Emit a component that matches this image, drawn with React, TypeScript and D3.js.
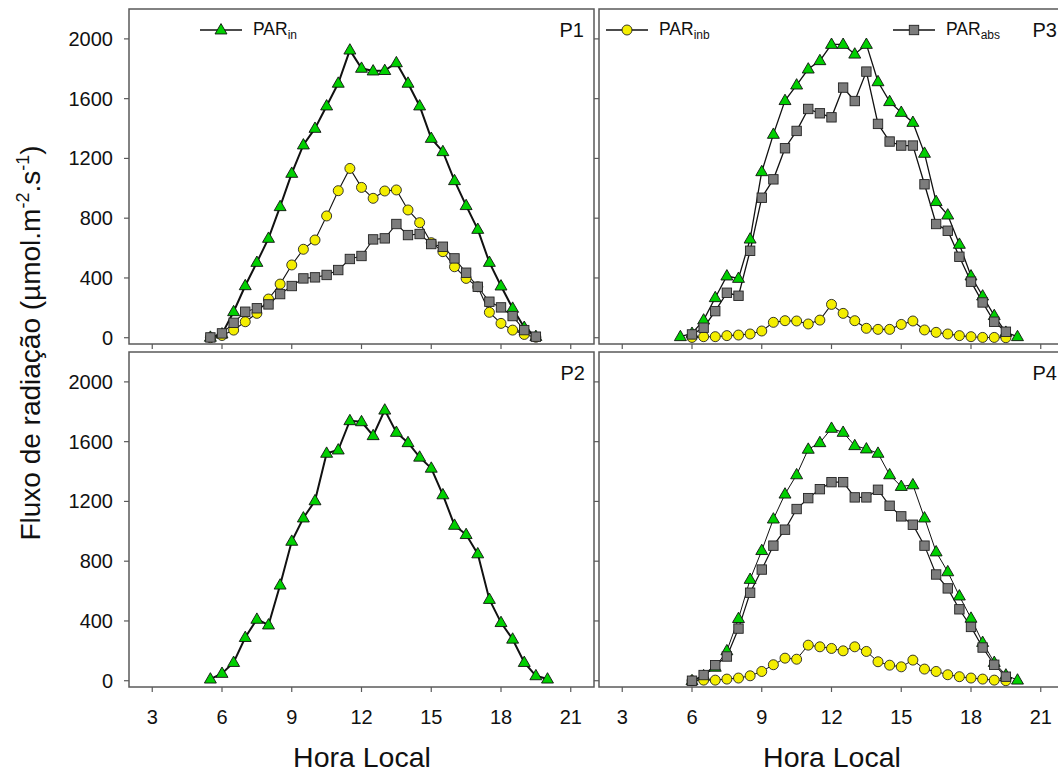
import React from "react";
import * as d3 from "d3";

// ---------- data ----------
const hP1 = [5.5,6,6.5,7,7.5,8,8.5,9,9.5,10,10.5,11,11.5,12,12.5,13,13.5,14,14.5,15,15.5,16,16.5,17,17.5,18,18.5,19,19.5];
const p1In = [3,25,174,348,504,665,877,1100,1290,1401,1551,1703,1925,1803,1785,1788,1840,1703,1551,1334,1245,1051,884,725,504,346,197,69,8];
const p1Inb = [0,15,51,107,163,259,359,487,592,654,815,984,1133,1006,933,982,989,855,770,636,576,475,397,341,170,96,51,22,3];
const p1Abs = [2,29,100,174,197,223,292,346,397,404,420,453,527,547,658,665,761,687,694,627,609,531,435,341,241,203,145,51,7];

const hP2 = [5.5,6,6.5,7,7.5,8,8.5,9,9.5,10,10.5,11,11.5,12,12.5,13,13.5,14,14.5,15,15.5,16,16.5,17,17.5,18,18.5,19,19.5,20];
const p2In = [11,49,122,289,411,373,640,933,1089,1204,1522,1544,1740,1733,1640,1811,1662,1593,1496,1422,1244,1040,978,849,544,389,278,122,33,11];

const hP3In = [5.5,6,6.5,7,7.5,8,8.5,9,9.5,10,10.5,11,11.5,12,12.5,13,13.5,14,14.5,15,15.5,16,16.5,17,17.5,18,18.5,19,19.5,20];
const p3In = [7,29,118,268,413,397,660,1111,1361,1587,1691,1798,1854,1963,1963,1898,1963,1713,1580,1508,1441,1234,911,821,625,413,279,148,36,7];
const hP3 = [6,6.5,7,7.5,8,8.5,9,9.5,10,10.5,11,11.5,12,12.5,13,13.5,14,14.5,15,15.5,16,16.5,17,17.5,18,18.5,19,19.5];
const p3Abs = [22,67,178,301,281,582,937,1060,1268,1384,1531,1502,1475,1674,1584,1781,1431,1313,1286,1286,1027,761,716,542,375,236,107,40];
const p3Inb = [2,7,7,14,18,25,45,103,114,112,92,118,223,163,114,63,56,56,89,112,52,36,25,14,7,2,2,0];

const hP4In = [6,6.5,7,7.5,8,8.5,9,9.5,10,10.5,11,11.5,12,12.5,13,13.5,14,14.5,15,15.5,16,16.5,17,17.5,18,18.5,19,19.5,20];
const p4In = [0,33,90,200,416,678,871,1082,1249,1378,1549,1593,1689,1662,1573,1551,1522,1378,1300,1311,1089,862,729,567,418,256,122,38,4];
const hP4 = [6,6.5,7,7.5,8,8.5,9,9.5,10,10.5,11,11.5,12,12.5,13,13.5,14,14.5,15,15.5,16,16.5,17,17.5,18,18.5,19,19.5];
const p4Abs = [0,38,104,162,349,589,744,904,1011,1149,1222,1282,1329,1329,1227,1227,1278,1171,1100,1044,904,711,618,478,360,222,107,27];
const p4Inb = [0,4,4,11,18,33,62,107,151,144,238,227,216,200,227,196,127,104,93,138,78,62,40,27,18,11,4,0];

const xTicks = [3, 6, 9, 12, 15, 18, 21];
const yTicks = [0, 400, 800, 1200, 1600, 2000];
const xDomain = [2, 22];
const yDomain = [-42, 2200];

const FONT = "'Liberation Sans', Arial, Helvetica, sans-serif";
const GREEN = "#00d000";
const YELLOW = "#f4ee00";
const GRAY = "#7c7c7c";
const FRAME = "#5a5a5a";

type Series = { h: number[]; v: number[]; kind: "tri" | "circ" | "sq"; lw: number };

type PanelProps = {
  x0: number; y0: number; w: number; h: number;
  label: string; labelX: number; series: Series[];
  showY: boolean; showX: boolean;
};

const triPath = d3.symbol().type(d3.symbolTriangle).size(62)() as string;
const linePath = (hs: number[], vs: number[], xs: d3.ScaleLinear<number, number>, ys: d3.ScaleLinear<number, number>) =>
  d3.line<number>().x((_, i) => xs(hs[i])).y((d) => ys(d))(vs) as string;

function Marker({ kind, cx, cy }: { kind: string; cx: number; cy: number }) {
  if (kind === "tri")
    return <path d={triPath} transform={`translate(${cx},${cy + 0.5})`} fill={GREEN} stroke="#111" strokeWidth={0.9} />;
  if (kind === "circ")
    return <circle cx={cx} cy={cy} r={5} fill={YELLOW} stroke="#222" strokeWidth={0.9} />;
  return <rect x={cx - 4.7} y={cy - 4.7} width={9.4} height={9.4} fill={GRAY} stroke="#222" strokeWidth={0.9} />;
}

function Panel({ x0, y0, w, h, label, labelX, series, showY, showX }: PanelProps) {
  const xs = d3.scaleLinear().domain(xDomain).range([x0, x0 + w]);
  const ys = d3.scaleLinear().domain(yDomain).range([y0 + h, y0]);
  const order = ["tri", "circ", "sq"];
  const sorted = [...series].sort((a, b) => order.indexOf(a.kind) - order.indexOf(b.kind));
  return (
    <g>
      {yTicks.map((t) => (
        <g key={"y" + t}>
          <line x1={x0 - 5} x2={x0} y1={ys(t)} y2={ys(t)} stroke={FRAME} strokeWidth={1.2} />
          {showY && (
            <text x={x0 - 16} y={ys(t)} dy="0.35em" textAnchor="end" fontSize={20} fontFamily={FONT} fill="#111">
              {t}
            </text>
          )}
        </g>
      ))}
      {xTicks.map((t) => (
        <g key={"x" + t}>
          <line x1={xs(t)} x2={xs(t)} y1={y0 + h} y2={y0 + h + 5} stroke={FRAME} strokeWidth={1.2} />
          {showX && (
            <text x={xs(t)} y={y0 + h + 37} textAnchor="middle" fontSize={20} fontFamily={FONT} fill="#111">
              {t}
            </text>
          )}
        </g>
      ))}
      {sorted.map((s, k) => (
        <path key={"l" + k} d={linePath(s.h, s.v, xs, ys)} fill="none" stroke="#111" strokeWidth={s.lw} />
      ))}
      {sorted.map((s, k) => (
        <g key={"m" + k}>
          {s.v.map((v, i) => (
            <Marker key={i} kind={s.kind} cx={xs(s.h[i])} cy={ys(v)} />
          ))}
        </g>
      ))}
      <rect x={x0} y={y0} width={w} height={h} fill="none" stroke={FRAME} strokeWidth={1.5} />
      <text x={labelX} y={y0 + 28} textAnchor="end" fontSize={20} fontFamily={FONT} fill="#111">
        {label}
      </text>
    </g>
  );
}

function LegendItem({ x, y, kind, main, sub }: { x: number; y: number; kind: string; main: string; sub: string }) {
  return (
    <g>
      <line x1={x} x2={x + 42} y1={y} y2={y} stroke="#111" strokeWidth={1.5} />
      <Marker kind={kind} cx={x + 21} cy={y} />
      <text x={x + 53} y={y + 4.5} fontSize={17.5} fontFamily={FONT} fill="#111">
        {main}
        <tspan fontSize={12} dy={4}>{sub}</tspan>
      </text>
    </g>
  );
}

export default function App() {
  const W = 1058, H = 775;
  const pw = 465, ph = 335;
  const L = 129, R = 599, T = 9, B = 352;
  return (
    <svg width={W} height={H} style={{ position: "absolute", left: 0, top: 0, background: "#fff" }}>
      <rect x={0} y={0} width={W} height={H} fill="#fff" />
      <Panel x0={L} y0={T} w={pw} h={ph} label="P1" labelX={584} showY showX={false}
        series={[
          { h: hP1, v: p1In, kind: "tri", lw: 2 },
          { h: hP1, v: p1Inb, kind: "circ", lw: 1.1 },
          { h: hP1, v: p1Abs, kind: "sq", lw: 1.1 },
        ]} />
      <Panel x0={R} y0={T} w={pw} h={ph} label="P3" labelX={1057} showY={false} showX={false}
        series={[
          { h: hP3In, v: p3In, kind: "tri", lw: 1.3 },
          { h: hP3, v: p3Inb, kind: "circ", lw: 1.1 },
          { h: hP3, v: p3Abs, kind: "sq", lw: 1.3 },
        ]} />
      <Panel x0={L} y0={B} w={pw} h={ph} label="P2" labelX={585} showY showX
        series={[{ h: hP2, v: p2In, kind: "tri", lw: 2 }]} />
      <Panel x0={R} y0={B} w={pw} h={ph} label="P4" labelX={1057} showY={false} showX
        series={[
          { h: hP4In, v: p4In, kind: "tri", lw: 1 },
          { h: hP4, v: p4Inb, kind: "circ", lw: 1 },
          { h: hP4, v: p4Abs, kind: "sq", lw: 1.2 },
        ]} />
      <LegendItem x={200} y={30} kind="tri" main="PAR" sub="in" />
      <LegendItem x={606} y={30} kind="circ" main="PAR" sub="inb" />
      <LegendItem x={893} y={30} kind="sq" main="PAR" sub="abs" />
      <text x={362} y={767} textAnchor="middle" fontSize={28.5} fontFamily={FONT} fill="#111">Hora Local</text>
      <text x={832} y={767} textAnchor="middle" fontSize={28.5} fontFamily={FONT} fill="#111">Hora Local</text>
      <text transform="translate(40,343) rotate(-90)" textAnchor="middle" fontSize={28} fontFamily={FONT} fill="#111">
        Fluxo de radiação (µmol.m<tspan fontSize={18} dy={-11}>-2</tspan>
        <tspan dy={11}>.s</tspan>
        <tspan fontSize={18} dy={-11}>-1</tspan>
        <tspan dy={11}>)</tspan>
      </text>
    </svg>
  );
}
